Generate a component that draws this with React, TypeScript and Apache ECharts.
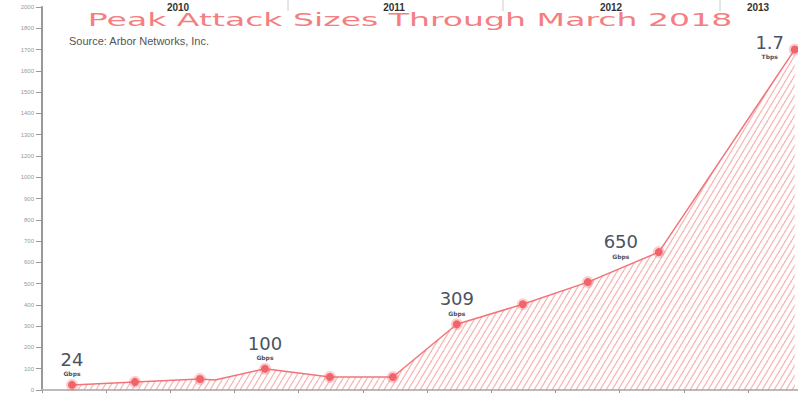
import React, { useEffect, useRef } from "react";
import * as echarts from "echarts";

// x positions in tick units (ticks at integers), y values in axis units
const pointX = [0.467, 1.449, 2.461, 2.695, 3.474, 4.486, 5.467, 6.464, 7.492, 8.505, 9.611, 11.729];
const pointY = [24, 38, 52, 47, 100, 61, 61, 309, 403, 507, 648, 1600];
const showMarker = [true, true, true, false, true, true, true, true, true, true, true, true];
const labelValues = ["24", "", "", "", "100", "", "", "309", "", "", "650", "1.7"];
const labelUnits = ["Gbps", "", "", "", "Gbps", "", "", "Gbps", "", "", "Gbps", "Tbps"];
const yTickLabels = ["0", "100", "200", "300", "400", "500", "600", "700", "800", "900", "1000", "1200", "1300", "1400", "1500", "1600", "1700", "1800", "2000"];
const years = ["2010", "2011", "2012", "2013"];
const yearCenters = [178, 394, 611, 758];
const yearSeparators = [288, 503, 720];

const labelOffsets: Record<number, number[]> = { 10: [-38, 15], 11: [-25, 18] };

function makePattern(): HTMLCanvasElement {
  const c = document.createElement("canvas");
  const w = 6, h = 10;
  c.width = w; c.height = h;
  const ctx = c.getContext("2d")!;
  ctx.strokeStyle = "rgba(243,120,120,0.55)";
  ctx.lineWidth = 1.2;
  for (const dx of [-w, 0, w]) {
    ctx.beginPath();
    ctx.moveTo(dx, h);
    ctx.lineTo(dx + w, 0);
    ctx.stroke();
  }
  return c;
}

export default function App() {
  const ref = useRef<HTMLDivElement>(null);
  useEffect(() => {
    const chart = echarts.init(ref.current!, null, { renderer: "svg" });
    const data = pointX.map((x, i) => {
      const item: any = {
        value: [x, pointY[i]],
        symbolSize: showMarker[i] ? 8 : 0,
      };
      if (labelOffsets[i]) item.label = { offset: labelOffsets[i] };
      return item;
    });
    const graphics: any[] = [
      {
        type: "text",
        x: 410,
        y: 20,
        scaleX: 1.84,
        style: {
          text: "Peak Attack Sizes Through March 2018",
          fill: "#f47e80",
          font: "18px 'DejaVu Sans'",
          textAlign: "center",
          textVerticalAlign: "middle",
        },
      },
      {
        type: "text",
        x: 69,
        y: 41,
        style: {
          text: "Source: Arbor Networks, Inc.",
          fill: "#555",
          font: "11px 'Liberation Sans'",
          textAlign: "left",
          textVerticalAlign: "middle",
        },
      },
    ];
    years.forEach((yr, i) => {
      graphics.push({
        type: "text",
        x: yearCenters[i],
        y: 7,
        style: {
          text: yr,
          fill: "#333",
          font: "bold 10px 'Liberation Sans'",
          textAlign: "center",
          textVerticalAlign: "middle",
        },
      });
    });
    yearSeparators.forEach((sx) => {
      graphics.push({
        type: "line",
        shape: { x1: sx, y1: 0, x2: sx, y2: 11 },
        style: { stroke: "#ccc", lineWidth: 1 },
      });
    });
    chart.setOption({
      animation: false,
      backgroundColor: "#fff",
      grid: { left: 42, right: 0, top: 7, bottom: 3 },
      xAxis: {
        type: "value",
        min: 0,
        max: 11.78,
        interval: 1,
        axisLine: { show: true, lineStyle: { color: "#bbb", width: 2 } },
        axisTick: { show: true, length: 5, lineStyle: { color: "#999" } },
        axisLabel: { show: false },
        splitLine: { show: false },
      },
      yAxis: {
        type: "value",
        min: 0,
        max: 1800,
        interval: 100,
        axisLine: { show: true, lineStyle: { color: "#999", width: 2 } },
        axisTick: { show: true, length: 6, lineStyle: { color: "#999" } },
        axisLabel: {
          fontSize: 6,
          color: "#999",
          margin: 8,
          fontFamily: "Liberation Sans",
          formatter: (v: number) => yTickLabels[Math.round(v / 100)] ?? "",
        },
        splitLine: { show: false },
      },
      series: [
        {
          type: "line",
          data,
          symbol: "circle",
          clip: false,
          lineStyle: { color: "#f37478", width: 1.5 },
          itemStyle: {
            color: "#f2646a",
            borderColor: "rgba(242,100,106,0.3)",
            borderWidth: 4,
          },
          areaStyle: {
            color: { image: makePattern(), repeat: "repeat" } as any,
            opacity: 1,
          },
          label: {
            show: true,
            position: "top",
            distance: 0,
            formatter: (p: any) => {
              const i = p.dataIndex;
              if (!labelValues[i]) return "";
              return `{v|${labelValues[i]}}\n{u|${labelUnits[i]}}`;
            },
            rich: {
              v: { fontSize: 18, color: "#4a5361", fontFamily: "DejaVu Sans", lineHeight: 19, align: "center" },
              u: { fontSize: 6, fontWeight: "bold", color: "#4a5361", fontFamily: "DejaVu Sans", lineHeight: 10, align: "center" },
            },
          },
        },
      ],
      graphic: graphics,
    });
    return () => chart.dispose();
  }, []);
  return (
    <div
      ref={ref}
      style={{ position: "fixed", left: 0, top: 0, width: 798, height: 393 }}
    />
  );
}
